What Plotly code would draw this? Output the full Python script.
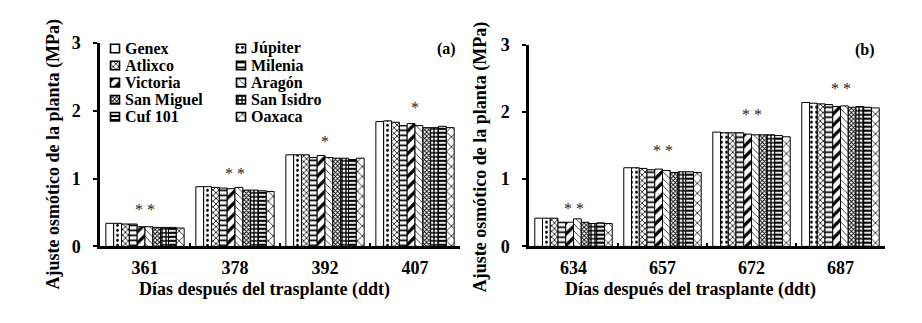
import plotly.graph_objects as go

varieties = ["Genex", "Júpiter", "Atlixco", "Milenia", "Victoria",
             "Aragón", "San Miguel", "San Isidro", "Cuf 101", "Oaxaca"]

days_a = ["361", "378", "392", "407"]
days_b = ["634", "657", "672", "687"]

# values per sampling day, in variety order
a_361 = [0.34, 0.34, 0.33, 0.33, 0.29, 0.29, 0.28, 0.28, 0.28, 0.27]
a_378 = [0.88, 0.88, 0.87, 0.86, 0.85, 0.87, 0.83, 0.83, 0.82, 0.81]
a_392 = [1.35, 1.35, 1.35, 1.31, 1.34, 1.31, 1.30, 1.30, 1.28, 1.30]
a_407 = [1.84, 1.85, 1.83, 1.78, 1.81, 1.78, 1.75, 1.75, 1.77, 1.75]

b_634 = [0.42, 0.42, 0.42, 0.36, 0.36, 0.41, 0.36, 0.34, 0.35, 0.34]
b_657 = [1.17, 1.17, 1.16, 1.14, 1.15, 1.13, 1.10, 1.11, 1.11, 1.10]
b_672 = [1.70, 1.69, 1.69, 1.69, 1.67, 1.66, 1.66, 1.66, 1.65, 1.63]
b_687 = [2.14, 2.13, 2.12, 2.11, 2.08, 2.09, 2.07, 2.08, 2.07, 2.06]

sig_a = ["* *", "* *", "*", "*"]
sig_a_y = [0.54, 1.07, 1.55, 2.04]
sig_b = ["* *", "* *", "* *", "* *"]
sig_b_y = [0.56, 1.43, 1.96, 2.35]

y_ticks = [0, 1, 2, 3]

patterns = [
    dict(shape="", bgcolor="white"),
    dict(shape=".", size=5, solidity=0.25),
    dict(shape="x", size=4, solidity=0.35),
    dict(shape="-", size=5, solidity=0.35),
    dict(shape="/", size=8, solidity=0.4),
    dict(shape="\\", size=5, solidity=0.15),
    dict(shape="x", size=3, solidity=0.5),
    dict(shape="+", size=4, solidity=0.55),
    dict(shape="-", size=4, solidity=0.55),
    dict(shape="x", size=7, solidity=0.2),
]

cols_a = [a_361, a_378, a_392, a_407]
cols_b = [b_634, b_657, b_672, b_687]

FONT = "Liberation Serif"
W, H = 922, 323

# legend layout (pixels)
LEG_SW_X = [115, 241]
LEG_TX_X = [124, 250]
LEG_ROW_Y0, LEG_ROW_DY, LEG_SW = 41, 18.2, 9

fig = go.Figure()
annotations = []
legfont = dict(family=FONT, size=16, color="black", weight="bold")
for i, v in enumerate(varieties):
    pat = dict(fgcolor="black", bgcolor="white", fillmode="replace")
    pat.update(patterns[i])
    mk = dict(color="white", line=dict(color="black", width=1), pattern=pat)
    fig.add_trace(go.Bar(x=days_a, y=[c[i] for c in cols_a], name=v, marker=mk,
                         xaxis="x", yaxis="y", showlegend=False))
    fig.add_trace(go.Bar(x=days_b, y=[c[i] for c in cols_b], name=v, marker=mk,
                         xaxis="x2", yaxis="y2", showlegend=False))
    # legend swatch and label
    col, row = i % 2, i // 2
    ry = LEG_ROW_Y0 + row * LEG_ROW_DY
    swm = dict(color="white", line=dict(color="black", width=1.6), pattern=pat)
    fig.add_trace(go.Bar(x=[LEG_SW_X[col]], base=[ry - LEG_SW / 2], y=[LEG_SW], width=[LEG_SW],
                         offset=-LEG_SW / 2, marker=swm, xaxis="x3", yaxis="y3",
                         showlegend=False, hoverinfo="skip"))
    annotations.append(dict(x=LEG_TX_X[col] / W, y=1 - ry / H, xref="paper", yref="paper",
                            text=v, showarrow=False, xanchor="left", yanchor="middle",
                            borderpad=0, font=legfont))

sigfont = dict(family=FONT, size=16, color="#222")
for k, (s, yv) in enumerate(zip(sig_a, sig_a_y)):
    annotations.append(dict(x=k, y=yv, xref="x", yref="y", text=s, showarrow=False,
                            xanchor="center", yanchor="middle", font=sigfont))
for k, (s, yv) in enumerate(zip(sig_b, sig_b_y)):
    annotations.append(dict(x=k, y=yv, xref="x2", yref="y2", text=s, showarrow=False,
                            xanchor="center", yanchor="middle", font=sigfont))

tfont = dict(family=FONT, size=18, color="black", weight="bold")


def pann(px, py, text, font, angle=0):
    return dict(x=px / W, y=1 - py / H, xref="paper", yref="paper", text=text,
                textangle=angle, showarrow=False, xanchor="center", yanchor="middle", font=font)


lblfont = dict(family=FONT, size=16, color="black", weight="bold")
annotations += [
    pann(53, 154, "Ajuste osmótico de la planta (MPa)", tfont, -90),
    pann(480, 157, "Ajuste osmótico de la planta (MPa)", tfont, -90),
    pann(264, 298, "Días después del trasplante (ddt)", tfont),
    pann(690, 298, "Días después del trasplante (ddt)", tfont),
    pann(446, 42, "(a)", lblfont),
    pann(865, 43, "(b)", lblfont),
]

tickfont = dict(family=FONT, size=18, color="black", weight="bold")
xax = dict(type="category", range=[-0.5, 3.5], showline=True, linecolor="black", linewidth=2.5,
           ticks="inside", tickson="boundaries", ticklen=4, tickwidth=2, tickcolor="black",
           tickfont=tickfont, ticklabelstandoff=3, showgrid=False, zeroline=False)
yax = dict(range=[0, 3], tickvals=y_ticks, showline=True, linecolor="black", linewidth=2.5,
           ticks="outside", ticklen=4, tickwidth=2, tickcolor="black", tickfont=tickfont,
           ticklabelstandoff=9, showgrid=False, zeroline=False)

fig.update_layout(
    width=W, height=H, margin=dict(l=0, r=0, t=0, b=0),
    paper_bgcolor="white", plot_bgcolor="rgba(0,0,0,0)",
    barmode="group", bargap=0.13, bargroupgap=0,
    xaxis=dict(domain=[100 / W, 460 / W], anchor="y", **xax),
    yaxis=dict(domain=[1 - 252 / H, 1 - 35 / H], anchor="x", **yax),
    xaxis2=dict(domain=[529 / W, 885 / W], anchor="y2", **xax),
    yaxis2=dict(domain=[1 - 252 / H, 1 - 37 / H], anchor="x2", **yax),
    xaxis3=dict(domain=[0, 1], range=[0, W], visible=False, fixedrange=True, anchor="y3"),
    yaxis3=dict(domain=[0, 1], range=[H, 0], visible=False, fixedrange=True, anchor="x3"),
    showlegend=False,
    annotations=annotations,
)

fig.write_html("out.html")
